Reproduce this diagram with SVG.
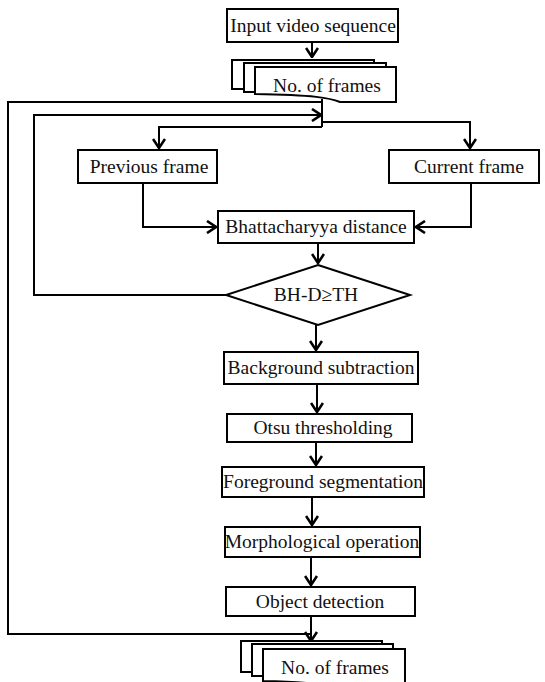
<svg xmlns="http://www.w3.org/2000/svg" width="545" height="682" viewBox="0 0 545 682">
<style>
.b{fill:#fff;stroke:#000;stroke-width:2}
.t{font-family:"Liberation Serif","Times New Roman",serif;font-size:19.5px;fill:#111;text-anchor:middle}
.c{fill:none;stroke:#000;stroke-width:2}
</style>
<defs>
<marker id="a" viewBox="0 0 11 14" markerWidth="11" markerHeight="14" refX="10" refY="7" orient="auto" markerUnits="userSpaceOnUse">
<path d="M1,1 L10,7 L1,13" fill="none" stroke="#000" stroke-width="2.6"/>
</marker>
</defs>
<rect width="545" height="682" fill="#fff"/>
<g id="connectors">
<path class="c" d="M312,42 V57" marker-end="url(#a)"/>
<path class="c" d="M311,634 H8 V102 H322"/>
<path class="c" d="M322,99 V127"/>
<path class="c" d="M226,295 H34 V115 H321" marker-end="url(#a)"/>
<path class="c" d="M322,122 H470 V148" marker-end="url(#a)"/>
<path class="c" d="M322,127 H159 V148" marker-end="url(#a)"/>
<path class="c" d="M143,183 V227 H216" marker-end="url(#a)"/>
<path class="c" d="M471,183 V227 H416" marker-end="url(#a)"/>
<path class="c" d="M318,243 V263" marker-end="url(#a)"/>
<path class="c" d="M316,325 V350" marker-end="url(#a)"/>
<path class="c" d="M317,384 V412" marker-end="url(#a)"/>
<path class="c" d="M316,442 V465" marker-end="url(#a)"/>
<path class="c" d="M312,497 V525" marker-end="url(#a)"/>
<path class="c" d="M311,557 V585" marker-end="url(#a)"/>
<path class="c" d="M311,616 V641" marker-end="url(#a)"/>
</g>
<g id="input">
<rect class="b" x="227" y="9" width="171" height="33"/>
<text class="t" x="313" y="32">Input video sequence</text>
</g>
<g id="frames-top">
<rect class="b" x="232" y="60" width="142" height="29"/>
<rect class="b" x="244" y="63" width="142" height="29"/>
<path class="b" d="M255,67 H396 V102 H340 C330,98 315,95 255,94 Z"/>
<text class="t" x="327" y="92">No. of frames</text>
</g>
<g id="previous">
<rect class="b" x="78" y="150" width="139" height="33"/>
<text class="t" x="149" y="173">Previous frame</text>
</g>
<g id="current">
<rect class="b" x="389" y="150" width="150" height="33"/>
<text class="t" x="469" y="173">Current frame</text>
</g>
<g id="bhatt">
<rect class="b" x="218" y="211" width="196" height="32"/>
<text class="t" x="316" y="233">Bhattacharyya distance</text>
</g>
<g id="decision">
<path class="b" d="M318,265 L410,295 L318,325 L226,295 Z"/>
<text class="t" x="316" y="301">BH-D≥TH</text>
</g>
<g id="background">
<rect class="b" x="224" y="352" width="194" height="32"/>
<text class="t" x="321" y="374">Background subtraction</text>
</g>
<g id="otsu">
<rect class="b" x="227" y="414" width="185" height="28"/>
<text class="t" x="323" y="434">Otsu thresholding</text>
</g>
<g id="foreground">
<rect class="b" x="222" y="467" width="202" height="30"/>
<text class="t" x="323" y="488">Foreground segmentation</text>
</g>
<g id="morph">
<rect class="b" x="225" y="527" width="195" height="30"/>
<text class="t" x="322" y="548">Morphological operation</text>
</g>
<g id="object">
<rect class="b" x="226" y="587" width="189" height="29"/>
<text class="t" x="320" y="608">Object detection</text>
</g>
<g id="frames-bottom">
<rect class="b" x="241" y="641" width="141" height="31"/>
<rect class="b" x="252" y="644" width="141" height="32"/>
<path class="b" d="M263,649 H405 V692 H350 C340,688 325,682 263,681 Z"/>
<text class="t" x="335" y="674">No. of frames</text>
</g>
</svg>
